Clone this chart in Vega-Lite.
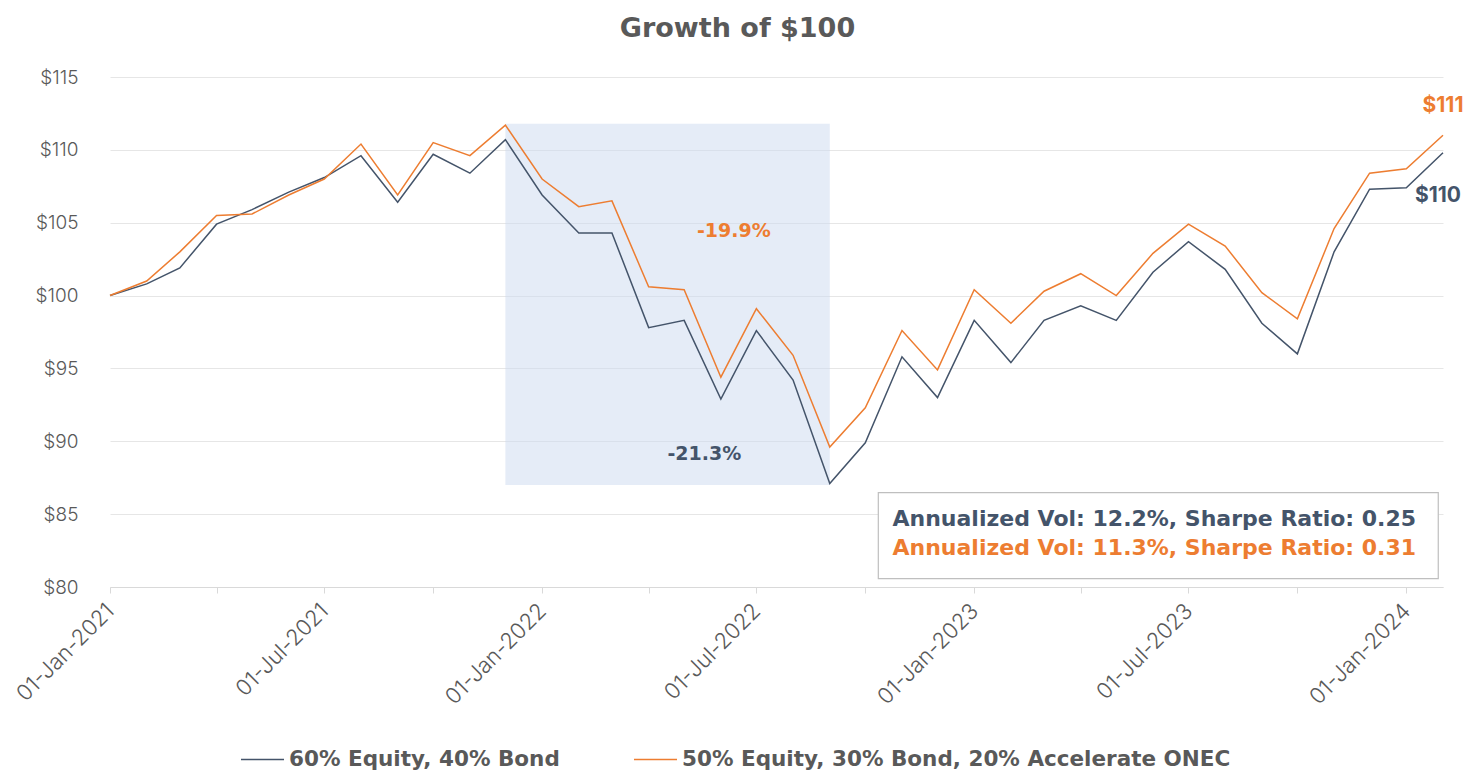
{
  "$schema": "https://vega.github.io/schema/vega-lite/v6.json",
  "width": 1333,
  "height": 510,
  "autosize": "none",
  "padding": {"left": 110, "top": 77, "right": 25, "bottom": 184},
  "background": "white",
  "config": {
    "font": "Inter",
    "view": {"stroke": null},
    "axis": {"labelFont": "Inter", "labelColor": "#595959"}
  },
  "title": {
    "text": "Growth of $100",
    "fontSize": 27,
    "fontWeight": "bold",
    "color": "#595959",
    "font": "DejaVu Sans",
    "anchor": "middle",
    "dx": -39,
    "offset": 25
  },
  "datasets": {
    "series": [
      {"date": "2021-01-01", "60% Equity, 40% Bond": 100.0, "50% Equity, 30% Bond, 20% Accelerate ONEC": 100.0},
      {"date": "2021-02-01", "60% Equity, 40% Bond": 100.8, "50% Equity, 30% Bond, 20% Accelerate ONEC": 101.0},
      {"date": "2021-03-01", "60% Equity, 40% Bond": 101.9, "50% Equity, 30% Bond, 20% Accelerate ONEC": 103.0},
      {"date": "2021-04-01", "60% Equity, 40% Bond": 104.9, "50% Equity, 30% Bond, 20% Accelerate ONEC": 105.5},
      {"date": "2021-05-01", "60% Equity, 40% Bond": 105.9, "50% Equity, 30% Bond, 20% Accelerate ONEC": 105.6},
      {"date": "2021-06-01", "60% Equity, 40% Bond": 107.1, "50% Equity, 30% Bond, 20% Accelerate ONEC": 106.9},
      {"date": "2021-07-01", "60% Equity, 40% Bond": 108.1, "50% Equity, 30% Bond, 20% Accelerate ONEC": 108.0},
      {"date": "2021-08-01", "60% Equity, 40% Bond": 109.6, "50% Equity, 30% Bond, 20% Accelerate ONEC": 110.4},
      {"date": "2021-09-01", "60% Equity, 40% Bond": 106.4, "50% Equity, 30% Bond, 20% Accelerate ONEC": 106.9},
      {"date": "2021-10-01", "60% Equity, 40% Bond": 109.7, "50% Equity, 30% Bond, 20% Accelerate ONEC": 110.5},
      {"date": "2021-11-01", "60% Equity, 40% Bond": 108.4, "50% Equity, 30% Bond, 20% Accelerate ONEC": 109.6},
      {"date": "2021-12-01", "60% Equity, 40% Bond": 110.7, "50% Equity, 30% Bond, 20% Accelerate ONEC": 111.7},
      {"date": "2022-01-01", "60% Equity, 40% Bond": 106.9, "50% Equity, 30% Bond, 20% Accelerate ONEC": 108.0},
      {"date": "2022-02-01", "60% Equity, 40% Bond": 104.3, "50% Equity, 30% Bond, 20% Accelerate ONEC": 106.1},
      {"date": "2022-03-01", "60% Equity, 40% Bond": 104.3, "50% Equity, 30% Bond, 20% Accelerate ONEC": 106.5},
      {"date": "2022-04-01", "60% Equity, 40% Bond": 97.8, "50% Equity, 30% Bond, 20% Accelerate ONEC": 100.6},
      {"date": "2022-05-01", "60% Equity, 40% Bond": 98.3, "50% Equity, 30% Bond, 20% Accelerate ONEC": 100.4},
      {"date": "2022-06-01", "60% Equity, 40% Bond": 92.9, "50% Equity, 30% Bond, 20% Accelerate ONEC": 94.4},
      {"date": "2022-07-01", "60% Equity, 40% Bond": 97.6, "50% Equity, 30% Bond, 20% Accelerate ONEC": 99.1},
      {"date": "2022-08-01", "60% Equity, 40% Bond": 94.2, "50% Equity, 30% Bond, 20% Accelerate ONEC": 95.9},
      {"date": "2022-09-01", "60% Equity, 40% Bond": 87.1, "50% Equity, 30% Bond, 20% Accelerate ONEC": 89.6},
      {"date": "2022-10-01", "60% Equity, 40% Bond": 89.9, "50% Equity, 30% Bond, 20% Accelerate ONEC": 92.3},
      {"date": "2022-11-01", "60% Equity, 40% Bond": 95.8, "50% Equity, 30% Bond, 20% Accelerate ONEC": 97.6},
      {"date": "2022-12-01", "60% Equity, 40% Bond": 93.0, "50% Equity, 30% Bond, 20% Accelerate ONEC": 94.9},
      {"date": "2023-01-01", "60% Equity, 40% Bond": 98.3, "50% Equity, 30% Bond, 20% Accelerate ONEC": 100.4},
      {"date": "2023-02-01", "60% Equity, 40% Bond": 95.4, "50% Equity, 30% Bond, 20% Accelerate ONEC": 98.1},
      {"date": "2023-03-01", "60% Equity, 40% Bond": 98.3, "50% Equity, 30% Bond, 20% Accelerate ONEC": 100.3},
      {"date": "2023-04-01", "60% Equity, 40% Bond": 99.3, "50% Equity, 30% Bond, 20% Accelerate ONEC": 101.5},
      {"date": "2023-05-01", "60% Equity, 40% Bond": 98.3, "50% Equity, 30% Bond, 20% Accelerate ONEC": 100.0},
      {"date": "2023-06-01", "60% Equity, 40% Bond": 101.6, "50% Equity, 30% Bond, 20% Accelerate ONEC": 102.9},
      {"date": "2023-07-01", "60% Equity, 40% Bond": 103.7, "50% Equity, 30% Bond, 20% Accelerate ONEC": 104.9},
      {"date": "2023-08-01", "60% Equity, 40% Bond": 101.8, "50% Equity, 30% Bond, 20% Accelerate ONEC": 103.4},
      {"date": "2023-09-01", "60% Equity, 40% Bond": 98.1, "50% Equity, 30% Bond, 20% Accelerate ONEC": 100.2},
      {"date": "2023-10-01", "60% Equity, 40% Bond": 96.0, "50% Equity, 30% Bond, 20% Accelerate ONEC": 98.4},
      {"date": "2023-11-01", "60% Equity, 40% Bond": 103.0, "50% Equity, 30% Bond, 20% Accelerate ONEC": 104.6},
      {"date": "2023-12-01", "60% Equity, 40% Bond": 107.3, "50% Equity, 30% Bond, 20% Accelerate ONEC": 108.4},
      {"date": "2024-01-01", "60% Equity, 40% Bond": 107.4, "50% Equity, 30% Bond, 20% Accelerate ONEC": 108.7},
      {"date": "2024-02-01", "60% Equity, 40% Bond": 109.8, "50% Equity, 30% Bond, 20% Accelerate ONEC": 111.0}
    ]
  },
  "layer": [
    {
      "data": {"values": [{"start": "2021-12-01", "end": "2022-09-01", "low": 87.0, "high": 111.8}]},
      "mark": {"type": "rect", "color": "#CCD9F0", "opacity": 0.5},
      "encoding": {
        "x": {"field": "start", "type": "temporal", "scale": {"type": "utc", "domain": [{"year": 2021, "month": 1, "date": 1, "utc": true}, {"year": 2024, "month": 2, "date": 1, "utc": true}]}},
        "x2": {"field": "end"},
        "y": {"field": "low", "type": "quantitative"},
        "y2": {"field": "high"}
      }
    },
    {
      "data": {"name": "series"},
      "transform": [{"fold": ["60% Equity, 40% Bond", "50% Equity, 30% Bond, 20% Accelerate ONEC"], "as": ["series", "value"]}],
      "mark": {"type": "line", "strokeWidth": 1.5},
      "encoding": {
        "x": {
          "field": "date",
          "type": "temporal",
          "scale": {"type": "utc", "domain": [{"year": 2021, "month": 1, "date": 1, "utc": true}, {"year": 2024, "month": 2, "date": 1, "utc": true}]},
          "axis": {
            "title": null,
            "grid": false,
            "values": [
              {"year": 2021, "month": 1, "date": 1, "utc": true},
              {"year": 2021, "month": 4, "date": 1, "utc": true},
              {"year": 2021, "month": 7, "date": 1, "utc": true},
              {"year": 2021, "month": 10, "date": 1, "utc": true},
              {"year": 2022, "month": 1, "date": 1, "utc": true},
              {"year": 2022, "month": 4, "date": 1, "utc": true},
              {"year": 2022, "month": 7, "date": 1, "utc": true},
              {"year": 2022, "month": 10, "date": 1, "utc": true},
              {"year": 2023, "month": 1, "date": 1, "utc": true},
              {"year": 2023, "month": 4, "date": 1, "utc": true},
              {"year": 2023, "month": 7, "date": 1, "utc": true},
              {"year": 2023, "month": 10, "date": 1, "utc": true},
              {"year": 2024, "month": 1, "date": 1, "utc": true}
            ],
            "labelExpr": "utcmonth(datum.value) % 6 == 0 ? utcFormat(datum.value, '%d-%b-%Y') : ''",
            "labelAngle": -45,
            "labelAlign": "right",
            "labelBaseline": "middle",
            "labelFontSize": 22,
            "labelFontWeight": 300,
            "labelPadding": 14,
            "labelOverlap": false,
            "labelBound": false,
            "labelFlush": false,
            "domainColor": "#D9D9D9",
            "tickColor": "#D9D9D9",
            "tickSize": 6
          }
        },
        "y": {
          "field": "value",
          "type": "quantitative",
          "scale": {"domain": [80, 115], "nice": false, "zero": false},
          "axis": {
            "title": null,
            "values": [80, 85, 90, 95, 100, 105, 110, 115],
            "labelExpr": "'$' + datum.value",
            "labelFontSize": 19,
            "labelFontWeight": 300,
            "labelPadding": 32,
            "domain": false,
            "ticks": false,
            "gridColor": "#E6E6E6",
            "gridWidth": 1
          }
        },
        "color": {
          "field": "series",
          "type": "nominal",
          "scale": {
            "domain": ["60% Equity, 40% Bond", "50% Equity, 30% Bond, 20% Accelerate ONEC"],
            "range": ["#44546A", "#ED7D31"]
          },
          "legend": {
            "title": null,
            "orient": "none",
            "legendX": 130,
            "legendY": 660,
            "padding": 0,
            "direction": "horizontal",
            "symbolType": "stroke",
            "symbolSize": 1850,
            "symbolStrokeWidth": 1.5,
            "labelFontSize": 21.5,
            "labelFontWeight": "bold",
            "labelColor": "#595959",
            "labelFont": "DejaVu Sans",
            "labelLimit": 800,
            "labelOffset": 4,
            "columnPadding": 70
          }
        }
      }
    },
    {
      "data": {"values": [
        {"date": "2024-02-01", "value": 111.0, "label": "$111", "series": "50% Equity, 30% Bond, 20% Accelerate ONEC"}
      ]},
      "mark": {"type": "text", "fontSize": 21, "fontWeight": "bold", "dy": -29, "color": "#ED7D31"},
      "encoding": {
        "x": {"field": "date", "type": "temporal"},
        "y": {"field": "value", "type": "quantitative"},
        "text": {"field": "label"}
      }
    },
    {
      "data": {"values": [
        {"date": "2024-02-01", "value": 109.8, "label": "$110", "series": "60% Equity, 40% Bond"}
      ]},
      "mark": {"type": "text", "fontSize": 21, "fontWeight": "bold", "dy": 43, "dx": -5, "color": "#44546A"},
      "encoding": {
        "x": {"field": "date", "type": "temporal"},
        "y": {"field": "value", "type": "quantitative"},
        "text": {"field": "label"}
      }
    },
    {
      "data": {"values": [
        {"date": "2022-06-12", "value": 104.46, "label": "-19.9%", "color": "#ED7D31"},
        {"date": "2022-05-18", "value": 89.16, "label": "-21.3%", "color": "#44546A"}
      ]},
      "mark": {"type": "text", "fontSize": 19, "fontWeight": "bold", "font": "DejaVu Sans"},
      "encoding": {
        "x": {"field": "date", "type": "temporal"},
        "y": {"field": "value", "type": "quantitative"},
        "text": {"field": "label"},
        "color": {"field": "color", "type": "nominal", "scale": null, "legend": null}
      }
    },
    {
      "data": {"values": [{"start": "2022-10-12", "end": "2024-01-28", "low": 80.58, "high": 86.48}]},
      "mark": {"type": "rect", "fill": "white", "stroke": "#BFBFBF", "strokeWidth": 1.2},
      "encoding": {
        "x": {"field": "start", "type": "temporal"},
        "x2": {"field": "end"},
        "y": {"field": "low", "type": "quantitative"},
        "y2": {"field": "high"}
      }
    },
    {
      "data": {"values": [
        {"date": "2022-10-24", "value": 84.69, "label": "Annualized Vol: 12.2%, Sharpe Ratio: 0.25", "color": "#44546A"},
        {"date": "2022-10-24", "value": 82.70, "label": "Annualized Vol: 11.3%, Sharpe Ratio: 0.31", "color": "#ED7D31"}
      ]},
      "mark": {"type": "text", "fontSize": 22, "fontWeight": "bold", "font": "DejaVu Sans", "align": "left", "baseline": "middle"},
      "encoding": {
        "x": {"field": "date", "type": "temporal"},
        "y": {"field": "value", "type": "quantitative"},
        "text": {"field": "label"},
        "color": {"field": "color", "type": "nominal", "scale": null, "legend": null}
      }
    }
  ]
}
